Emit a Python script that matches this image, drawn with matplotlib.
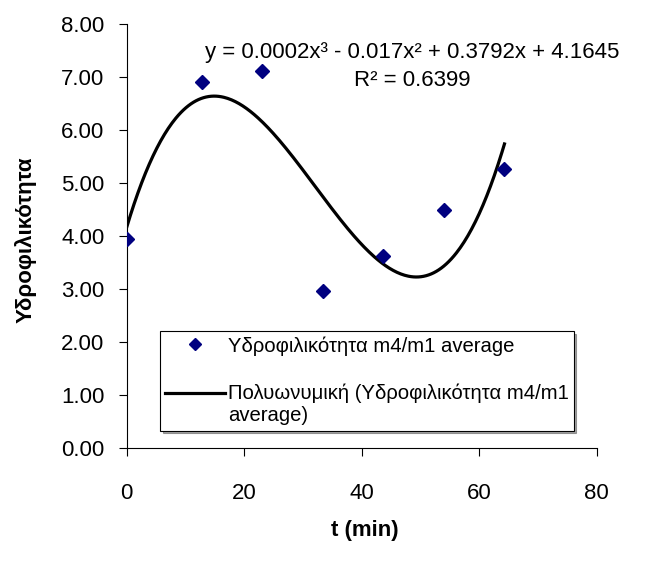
import numpy as np
import matplotlib
matplotlib.use('Agg')
import matplotlib.pyplot as plt
from matplotlib.lines import Line2D
from matplotlib.legend_handler import HandlerLine2D

plt.rcParams['font.family'] = ['Liberation Sans', 'DejaVu Sans']

# data
t_min = [0, 12.8, 23.1, 33.4, 43.7, 54.0, 64.3]
hydro = [3.94, 6.90, 7.12, 2.96, 3.63, 4.49, 5.27]
x_ticks = [0, 20, 40, 60, 80]
y_ticks = [0, 1, 2, 3, 4, 5, 6, 7, 8]
eq_text = 'y = 0.0002x³ - 0.017x² + 0.3792x + 4.1645'
r2_text = 'R² = 0.6399'


class TopLineHandler(HandlerLine2D):
    # put the trendline handle next to the first text row, like excel
    def create_artists(self, legend, orig_handle, xdescent, ydescent,
                       width, height, fontsize, trans):
        arts = super().create_artists(legend, orig_handle, xdescent, ydescent,
                                      width, height, fontsize, trans)
        for a in arts:
            a.set_ydata(np.asarray(a.get_ydata()) + 0.6 * fontsize)
        return arts


fig = plt.figure(figsize=(6.66, 5.61), dpi=100)
ax = fig.add_axes([0.190, 0.201, 0.706, 0.756])

# cubic trendline like excel does it
coef = np.polyfit(t_min, hydro, 3)
xs = np.linspace(min(t_min), max(t_min), 300)
ax.plot(xs, np.polyval(coef, xs), color='black', lw=2.3, zorder=2)

ax.plot(t_min, hydro, linestyle='none', marker='D', color='#000080',
        markersize=7.5, zorder=3)

ax.set_xlim(0, 80)
ax.set_ylim(0, 8)
ax.set_xticks(x_ticks)
ax.set_yticks(y_ticks)
ax.set_yticklabels(['%.2f' % v for v in y_ticks])
ax.spines['top'].set_visible(False)
ax.spines['right'].set_visible(False)
ax.tick_params(axis='both', direction='out', length=6, width=0.8, labelsize=16)
ax.tick_params(axis='x', pad=19)
ax.tick_params(axis='y', pad=10)

fig.text(0.619, 0.907, eq_text, ha='center', va='center', fontsize=16)
fig.text(0.619, 0.857, r2_text, ha='center', va='center', fontsize=16)

fig.text(0.038, 0.572, 'Υδροφιλικότητα', rotation=90, ha='center', va='center',
         fontsize=16, fontweight='bold')
fig.text(0.548, 0.055, 't (min)', ha='center', va='center',
         fontsize=16, fontweight='bold')

trend_handle = Line2D([], [], color='black', lw=2.3)
handles = [
    Line2D([], [], linestyle='none', marker='D', color='#000080', markersize=6.5),
    trend_handle,
]
labels = ['Υδροφιλικότητα m4/m1 average',
          'Πολυωνυμική (Υδροφιλικότητα m4/m1\naverage)']
leg = fig.legend(handles, labels, loc='upper left',
                 bbox_to_anchor=(0.240, 0.410), borderaxespad=0, fontsize=14.6,
                 frameon=True, fancybox=False, shadow=True,
                 edgecolor='black', handlelength=2.95, handletextpad=0.15,
                 borderpad=0.25, labelspacing=1.4,
                 handler_map={trend_handle: TopLineHandler()})
leg.get_frame().set_linewidth(0.8)

fig.savefig('out.png', dpi=100)
